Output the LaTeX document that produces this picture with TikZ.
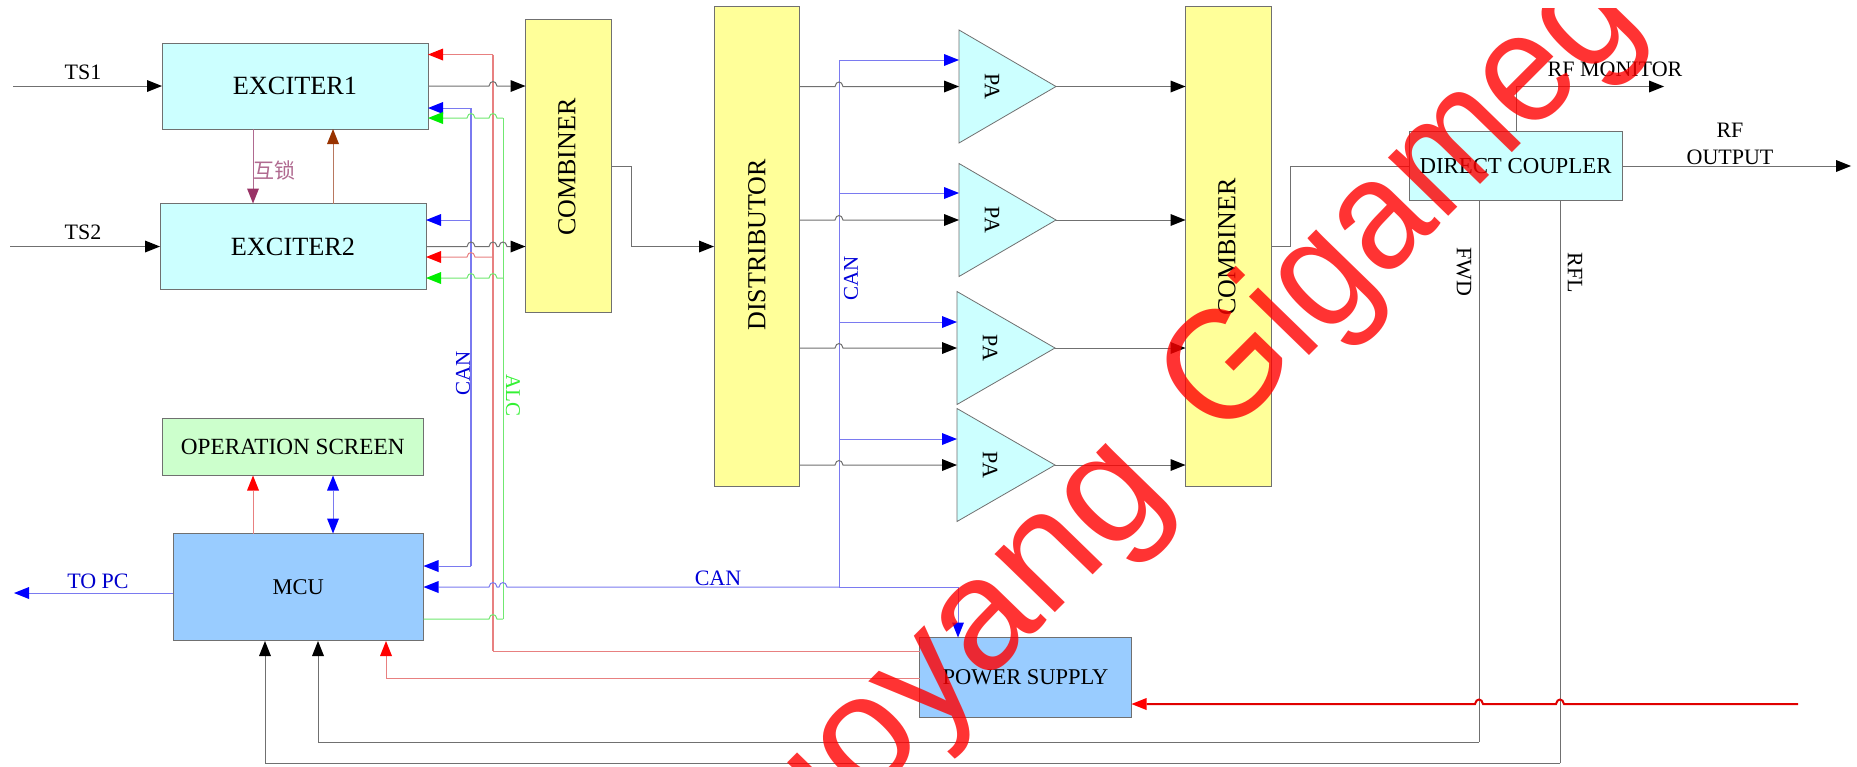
\documentclass[tikz,border=0pt]{standalone}
\usepackage{fontspec}
\setmainfont{Liberation Serif}
\newfontfamily\cjkfam{Noto Sans CJK SC}
\newfontfamily\wmfam{Liberation Sans}
\usetikzlibrary{arrows.meta,calc}
\definecolor{cyanbox}{HTML}{CCFFFF}
\definecolor{yellowbox}{HTML}{FFFF99}
\definecolor{greenbox}{HTML}{CCFFCC}
\definecolor{bluebox}{HTML}{99CCFF}
\definecolor{wgray}{HTML}{707070}
\definecolor{wblue}{HTML}{7A7AF0}
\definecolor{wred}{HTML}{E88080}
\definecolor{wgreen}{HTML}{70E870}
\definecolor{wpurple}{HTML}{B06A90}
\definecolor{wbrown}{HTML}{B87860}
\definecolor{tpurple}{HTML}{993366}
\definecolor{tbrown}{HTML}{993300}
\definecolor{tgreen}{HTML}{00EE00}
\newcommand{\fsz}[1]{\fontsize{#1}{#1}\selectfont}
\newcommand{\hopr}[2]{-- ({#1-4},#2) .. controls ({#1-3},{#2-6}) and ({#1+3},{#2-6}) .. ({#1+4},#2)}
\newcommand{\hopl}[2]{-- ({#1+4},#2) .. controls ({#1+3},{#2-6}) and ({#1-3},{#2-6}) .. ({#1-4},#2)}
\tikzset{
  box/.style={draw=wgray,line width=1pt,inner sep=0pt,outer sep=0pt,align=center},
  wire/.style={line width=1pt,draw=#1},
  tipc/.style={-{Triangle[length=15pt,width=12pt,color=#1,line width=0pt]}},
  lab/.style={inner sep=0pt,outer sep=0pt,font=\fsz{22}},
}
\begin{document}
\begin{tikzpicture}[x=1pt,y=-1pt]
\useasboundingbox[fill=white] (0,0) rectangle (1857,766);
% boxes
\node[box,fill=cyanbox,minimum width=266pt,minimum height=86pt,font=\fsz{26.3}] (ex1) at (295,86) {EXCITER1};
\node[box,fill=cyanbox,minimum width=266pt,minimum height=86pt,font=\fsz{26.3}] (ex2) at (293,246.5) {EXCITER2};
\node[box,fill=yellowbox,minimum width=86pt,minimum height=293pt] (cb1) at (568.5,166) {};
\node[lab,font=\fsz{26},rotate=90] (cb1t) at (567,167) {COMBINER};
\node[box,fill=yellowbox,minimum width=85pt,minimum height=480pt] (dist) at (756.5,246.5) {};
\node[lab,font=\fsz{26},rotate=90] (distt) at (757,245) {DISTRIBUTOR};
\node[box,fill=yellowbox,minimum width=85.5pt,minimum height=480pt] (cb2) at (1228.25,246.5) {};
\node[lab,font=\fsz{26},rotate=90] (cb2t) at (1227,247) {COMBINER};
\node[box,fill=greenbox,minimum width=261.5pt,minimum height=57pt,font=\fsz{23.2}] (op) at (292.75,447) {OPERATION SCREEN};
\node[box,fill=bluebox,minimum width=250.5pt,minimum height=107pt,font=\fsz{22.5}] (mcu) at (298.25,587) {MCU};
\node[box,fill=bluebox,minimum width=212pt,minimum height=80pt,font=\fsz{22.5}] (ps) at (1025.5,677.5) {POWER SUPPLY};
\node[box,fill=cyanbox,minimum width=213pt,minimum height=69pt,font=\fsz{22.8}] (dc) at (1515.5,166) {DIRECT COUPLER};
% PA triangles
\foreach \k/\xa/\xb/\yc in {1/959/1056/86.5,2/959/1056/220,3/957/1055/348,4/957/1055/465}{
  \draw[wgray,line width=.8pt,fill=cyanbox] (\xa,\yc-56.5) -- (\xb,\yc) -- (\xa,\yc+56.5) -- cycle;
  \coordinate (pa\k w) at (\xa,\yc);
  \coordinate (pa\k e) at (\xb,\yc);
  \node[lab,font=\fsz{22},rotate=-90] (pa\k) at (\xa+33,\yc) {PA};
}
% free ends
\coordinate (ts1in) at (13,86);
\coordinate (ts2in) at (10,246.5);
\coordinate (pcout) at (14,593);
\coordinate (rfmon) at (1664,86.5);
\coordinate (rfout) at (1851,166);
\coordinate (acin) at (1798,704);
\coordinate (canj) at (839,587);
% verticals first
\draw[wire=wblue,line width=1.2pt] (471,108) -- (471,566);
\draw[wire=wred,line width=1.2pt] (493,54.5) -- (493,651);
\draw[wire=wgreen] (503,118) -- (503,619);
\draw[wire=wblue] (839,60) -- (canj);
\draw[wire=wgray] (1479,201) -- (1479,742);
\draw[wire=wgray] (1560,201) -- (1560,763);
% inputs
\draw[wire=wgray,tipc=black] (ts1in) -- (ex1.west);
\draw[wire=wgray,tipc=black] (ts2in) -- (ex2.west);
% interlock
\draw[wire=wpurple,tipc=tpurple] (ex1.south -| 253,0) -- (ex2.north -| 253,0);
\draw[wire=wbrown,tipc=tbrown] (ex2.north -| 333,0) -- (ex1.south -| 333,0);
\node[lab,text=wpurple,font=\cjkfam\fsz{21}] (lock) at (274,170) {互锁};
% exciter feeds
\draw[wire=wgray,tipc=black] (ex1.east) \hopr{493}{86} -- (cb1.west |- ex1.east);
\draw[wire=wgray,tipc=black] (ex2.east) \hopr{471}{246.5} \hopr{493}{246.5} \hopr{503}{246.5} -- (cb1.west |- ex2.east);
\draw[wire=wred,tipc=red] (493,54.5) -- (ex1.east |- 0,54.5);
\draw[wire=wred,tipc=red] (493,257) \hopl{471}{257} -- (ex2.east |- 0,257);
\draw[wire=wblue,tipc=blue] (471,108) -- (ex1.east |- 0,108);
\draw[wire=wblue,tipc=blue] (471,220) -- (ex2.east |- 0,220);
\draw[wire=wgreen,tipc=tgreen] (503,118) \hopl{493}{118} \hopl{471}{118} -- (ex1.east |- 0,118);
\draw[wire=wgreen,tipc=tgreen] (503,278) \hopl{493}{278} \hopl{471}{278} -- (ex2.east |- 0,278);
% mcu
\draw[wire=wblue,tipc=blue] (471,566) -- (mcu.east |- 0,566);
\draw[wire=wred,tipc=red] (mcu.north -| 253,0) -- (op.south -| 253,0);
\draw[wire=wblue,{Triangle[length=15pt,width=12pt,color=blue,line width=0pt]}-{Triangle[length=15pt,width=12pt,color=blue,line width=0pt]}] (mcu.north -| 333,0) -- (op.south -| 333,0);
\draw[wire=wblue,tipc=blue] (mcu.west |- pcout) -- (pcout);
\node[lab,text=blue!80!black,font=\fsz{22}] (topc) at (98,581) {TO PC};
\draw[wire=wgreen] (mcu.east |- 0,619) \hopr{493}{619} -- (503,619);
\draw[wire=wred] (493,651) -- (ps.west |- 0,651);
\draw[wire=wred,tipc=red] (ps.west |- 0,678) -- (386,678) -- (386,641);
\draw[wire=wgray,tipc=black] (1479,742) -- (318,742) -- (318,641);
\draw[wire=wgray,tipc=black] (1560,763) -- (265,763) -- (265,641);
% CAN bus
\draw[wire=wblue,tipc=blue] (canj) \hopl{503}{587} \hopl{493}{587} -- (mcu.east |- canj);
\draw[wire=wblue,tipc=blue] (canj) -- (958,587) -- (ps.north -| 958,0);
\node[lab,text=blue!85!black] (canh) at (718,578) {CAN};
\node[lab,text=blue!85!black,font=\fsz{21},rotate=90] (canl) at (463,373) {CAN};
\node[lab,text=tgreen!80!white,font=\fsz{21},rotate=-90] (alc) at (513,395) {ALC};
\node[lab,text=blue!85!black,font=\fsz{21},rotate=90] (canv) at (851,278) {CAN};
% combiner -> distributor
\draw[wire=wgray,tipc=black] (cb1.east |- 0,166) -- (631,166) -- (631,246.5) -- (dist.west);
% distributor -> PA
\foreach \k/\yc in {1/86.5,2/220,3/348,4/465}{
  \draw[wire=wgray,tipc=black] (dist.east |- pa\k w) \hopr{839}{\yc} -- (pa\k w);
  \draw[wire=wgray,tipc=black] (pa\k e) -- (cb2.west |- pa\k e);
}
\draw[wire=wblue,tipc=blue] (839,60) -- (pa1w |- 0,60);
\draw[wire=wblue,tipc=blue] (839,193) -- (pa2w |- 0,193);
\draw[wire=wblue,tipc=blue] (839,322) -- (pa3w |- 0,322);
\draw[wire=wblue,tipc=blue] (839,439) -- (pa4w |- 0,439);
% output side
\draw[wire=wgray] (cb2.east |- 0,246) -- (1290,246) -- (1290,166) -- (dc.west);
\draw[wire=wgray,tipc=black] (dc.north -| 1516,0) -- (1516,86.5) -- (rfmon);
\draw[wire=wgray,tipc=black] (dc.east) -- (rfout);
\node[lab] (rfmont) at (1615,69) {RF MONITOR};
\node[lab] (rft) at (1730,130) {RF};
\node[lab] (outt) at (1730,157) {OUTPUT};
\node[lab,font=\fsz{22},rotate=-90] (fwd) at (1464,272) {FWD};
\node[lab,font=\fsz{22},rotate=-90] (rfl) at (1575,273) {RFL};
% mains
\draw[line width=2pt,draw=red!88!black,tipc=red] (acin) \hopl{1560}{704} \hopl{1479}{704} -- (ps.east |- acin);
\node[lab] (ts1) at (83,72) {TS1};
\node[lab] (ts2) at (83,232) {TS2};
% watermark
\begin{scope}
\clip (0,8) rectangle (1656,766);
\begin{scope}[cm={.64,.64,-.72,.70,(1140,520)}]
\node[transform shape,anchor=base east,inner sep=0pt,text=red,text opacity=.8,font=\wmfam\fsz{158},xscale=1.12] (wm1) at (46,6) {uoyang};
\node[transform shape,anchor=base west,inner sep=0pt,text=red,text opacity=.8,font=\wmfam\fsz{158},xscale=1.03] (wm2) at (123,4) {Gigameg};
\end{scope}
\end{scope}
\end{tikzpicture}
\end{document}
